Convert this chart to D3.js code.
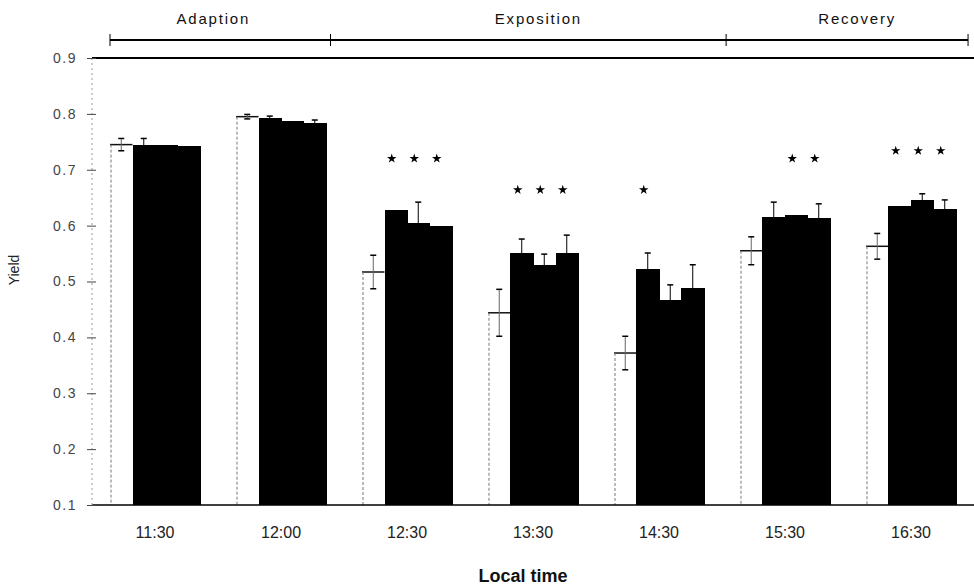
<!DOCTYPE html>
<html>
<head>
<meta charset="utf-8">
<script src="https://cdn.jsdelivr.net/npm/d3@7"></script>
<style>
  body { margin: 0; background: #fff; }
  text { font-family: "Liberation Sans", Arial, sans-serif; }
</style>
</head>
<body>
<div id="chart"></div>
<script>
// values
var times = ["11:30", "12:00", "12:30", "13:30", "14:30", "15:30", "16:30"];
var series = ["control", "a", "b", "c"];
var control    = [0.745, 0.795, 0.517, 0.444, 0.372, 0.555, 0.563];
var controlErr = [0.011, 0.004, 0.030, 0.042, 0.030, 0.025, 0.023];
var treatA     = [0.745, 0.793, 0.628, 0.551, 0.522, 0.615, 0.635];
var treatAErr  = [0.011, 0.003, 0.000, 0.025, 0.029, 0.027, 0.000];
var treatB     = [0.744, 0.787, 0.605, 0.530, 0.467, 0.619, 0.646];
var treatBErr  = [0.000, 0.000, 0.037, 0.019, 0.027, 0.000, 0.011];
var treatC     = [0.743, 0.783, 0.600, 0.551, 0.488, 0.614, 0.630];
var treatCErr  = [0.000, 0.006, 0.000, 0.032, 0.042, 0.025, 0.016];
// significance stars: which treatment bars (1..3) and at what yield level
var stars      = [[], [], [1, 2, 3], [1, 2, 3], [1], [2, 3], [1, 2, 3]];
var starLevel  = [0, 0, 0.720, 0.664, 0.664, 0.720, 0.734];
var yTicks = [0.1, 0.2, 0.3, 0.4, 0.5, 0.6, 0.7, 0.8, 0.9];
// phases, edges and label centres given in group units along the time axis
var phases = ["Adaption", "Exposition", "Recovery"];
var phaseEdges = [0, 1.75, 4.89, 6.81];
var phaseLabelAt = [0.82, 3.40, 5.93];

var W = 974, H = 586;
var margin = { left: 92, right: 974, top: 58, bottom: 505 };

var svg = d3.select("#chart").append("svg")
  .attr("width", W)
  .attr("height", H);

var x = d3.scaleBand()
  .domain(times)
  .range([margin.left, margin.right])
  .paddingInner(0.2857)
  .paddingOuter(0.1429);

var xIn = d3.scaleBand()
  .domain(series)
  .range([0, x.bandwidth()]);

var y = d3.scaleLinear()
  .domain([0.1, 0.9])
  .range([margin.bottom, margin.top]);

var vals = [control, treatA, treatB, treatC];
var errs = [controlErr, treatAErr, treatBErr, treatCErr];

var bars = [];
times.forEach(function(t, i){
  series.forEach(function(s, j){
    bars.push({ time: t, s: s, j: j, v: vals[j][i], e: errs[j][i] });
  });
});

// Bars
var g = svg.append("g");

g.selectAll(".bar").data(bars).enter().append("rect")
  .attr("class", "bar")
  .attr("x", function(d){ return x(d.time) + xIn(d.s); })
  .attr("y", function(d){ return y(d.v); })
  .attr("width", function(d){ return xIn.bandwidth() + (d.j === 0 ? 0 : 0.6); })
  .attr("height", function(d){ return y(0.1) - y(d.v); })
  .attr("fill", function(d){ return d.j === 0 ? "#fff" : "#000"; })
  .attr("shape-rendering", "crispEdges");

// outline of the white control bars: solid top, dotted left edge
var ctrl = bars.filter(function(d){ return d.j === 0; });
g.selectAll(".ctop").data(ctrl).enter().append("line")
  .attr("x1", function(d){ return x(d.time) + xIn(d.s); })
  .attr("x2", function(d){ return x(d.time) + xIn(d.s) + xIn.bandwidth(); })
  .attr("y1", function(d){ return y(d.v); })
  .attr("y2", function(d){ return y(d.v); })
  .attr("stroke", "#111")
  .attr("stroke-width", 1.5);

g.selectAll(".cleft").data(ctrl).enter().append("line")
  .attr("x1", function(d){ return x(d.time) + xIn(d.s) + 1; })
  .attr("x2", function(d){ return x(d.time) + xIn(d.s) + 1; })
  .attr("y1", function(d){ return y(d.v); })
  .attr("y2", y(0.1))
  .attr("stroke", "#777")
  .attr("stroke-width", 1)
  .attr("stroke-dasharray", "3,2");

// Error bars
var eb = bars.filter(function(d){ return d.e > 0; });
var cx = function(d){ return x(d.time) + xIn(d.s) + xIn.bandwidth() / 2; };

g.selectAll(".err").data(eb).enter().append("line")
  .attr("x1", cx).attr("x2", cx)
  .attr("y1", function(d){ return y(d.v + d.e); })
  .attr("y2", function(d){ return y(d.v - d.e); })
  .attr("stroke", function(d){ return d.j === 0 ? "#666" : "#000"; })
  .attr("stroke-width", 1);

[1, -1].forEach(function(sign){
  g.selectAll(".cap" + sign).data(eb).enter().append("line")
    .attr("x1", function(d){ return cx(d) - 3; })
    .attr("x2", function(d){ return cx(d) + 3; })
    .attr("y1", function(d){ return y(d.v + sign * d.e); })
    .attr("y2", function(d){ return y(d.v + sign * d.e); })
    .attr("stroke", "#000")
    .attr("stroke-width", 1.5);
});

// Stars
var starData = [];
times.forEach(function(t, i){
  stars[i].forEach(function(k){
    starData.push({ time: t, s: series[k], lvl: starLevel[i] });
  });
});

g.selectAll(".star").data(starData).enter().append("path")
  .attr("d", d3.symbol().type(d3.symbolStar).size(28))
  .attr("transform", function(d){
    return "translate(" + (x(d.time) + xIn(d.s) + xIn.bandwidth() / 2 - 4) + "," + y(d.lvl) + ")";
  })
  .attr("fill", "#000");

// Axes
svg.append("line")
  .attr("x1", margin.left).attr("x2", margin.right)
  .attr("y1", y(0.1)).attr("y2", y(0.1))
  .attr("stroke", "#000").attr("stroke-width", 1.5);

svg.append("line")
  .attr("x1", margin.left).attr("x2", margin.right)
  .attr("y1", y(0.9)).attr("y2", y(0.9))
  .attr("stroke", "#000").attr("stroke-width", 2);

svg.append("line")
  .attr("x1", margin.left).attr("x2", margin.left)
  .attr("y1", y(0.9)).attr("y2", y(0.1))
  .attr("stroke", "#999").attr("stroke-width", 1)
  .attr("stroke-dasharray", "2,3");

var yAxis = svg.append("g")
  .attr("class", "y-axis")
  .attr("transform", "translate(" + margin.left + ",0)")
  .call(d3.axisLeft(y).tickValues(yTicks).tickFormat(d3.format(".1f")).tickSize(5).tickPadding(10));

yAxis.select(".domain").remove();
yAxis.selectAll(".tick line").attr("x1", 4).attr("stroke", "#444");
yAxis.selectAll(".tick text")
  .attr("font-size", 14)
  .attr("fill", "#444")
  .style("letter-spacing", "1.5px");

var xAxis = svg.append("g")
  .attr("class", "x-axis")
  .attr("transform", "translate(0," + margin.bottom + ")")
  .call(d3.axisBottom(x).tickSize(0).tickPadding(22));

xAxis.select(".domain").remove();
xAxis.selectAll(".tick text")
  .attr("font-size", 16)
  .attr("fill", "#222");

// Labels
svg.append("text")
  .attr("text-anchor", "middle")
  .attr("transform", "translate(523,582)")
  .attr("font-size", 18)
  .attr("font-weight", "bold")
  .attr("fill", "#111")
  .text("Local time");

svg.append("text")
  .attr("text-anchor", "middle")
  .attr("transform", "translate(19,270)rotate(-90)")
  .attr("font-size", 14)
  .attr("fill", "#222")
  .text("Yield");

// Phase bracket
var px = function(u){ return x(times[0]) + u * x.step(); };
var py = 40;

svg.append("line")
  .attr("x1", px(phaseEdges[0])).attr("x2", px(phaseEdges[phaseEdges.length - 1]))
  .attr("y1", py).attr("y2", py)
  .attr("stroke", "#000").attr("stroke-width", 2);

svg.selectAll(".ptick").data(phaseEdges).enter().append("line")
  .attr("x1", px).attr("x2", px)
  .attr("y1", py - 6).attr("y2", py + 6)
  .attr("stroke", "#000").attr("stroke-width", 1);

svg.selectAll(".plabel").data(phases).enter().append("text")
  .attr("text-anchor", "middle")
  .attr("x", function(d, i){ return px(phaseLabelAt[i]); })
  .attr("y", 24)
  .attr("font-size", 15)
  .attr("fill", "#111")
  .style("letter-spacing", "1.8px")
  .text(function(d){ return d; });
</script>
</body>
</html>
